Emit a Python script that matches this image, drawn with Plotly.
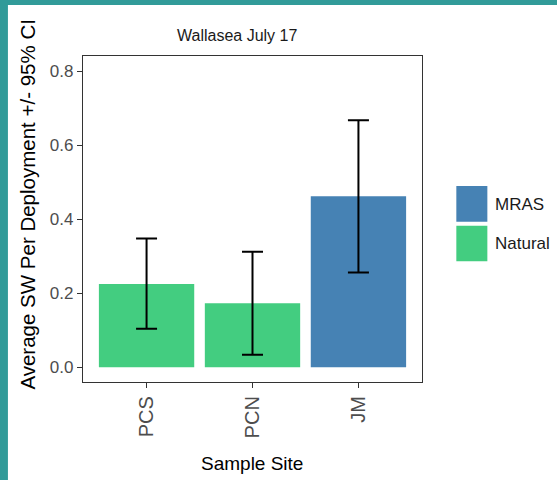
import plotly.graph_objects as go

sites = ["PCS", "PCN", "JM"]
groups = ["Natural", "Natural", "MRAS"]
means = [0.225, 0.173, 0.462]
ci_upper = [0.348, 0.312, 0.667]
ci_lower = [0.104, 0.034, 0.256]
y_ticks = [0.0, 0.2, 0.4, 0.6, 0.8]
y_tick_labels = ["0.0", "0.2", "0.4", "0.6", "0.8"]
legend_order = ["MRAS", "Natural"]
group_colors = {"MRAS": "#4682B4", "Natural": "#43CD80"}

FONT = "Liberation Sans, Arial, sans-serif"

err_plus = [u - m for u, m in zip(ci_upper, means)]
err_minus = [m - l for m, l in zip(means, ci_lower)]

fig = go.Figure()
fig.add_trace(go.Bar(
    x=sites, y=means,
    marker=dict(color=[group_colors[g] for g in groups], line=dict(width=0)),
    width=0.9,
    error_y=dict(type="data", symmetric=False, array=err_plus, arrayminus=err_minus,
                 color="black", thickness=2, width=10.5),
    showlegend=False,
))

W, H = 557, 480
L, R, T, B = 83, 135.3, 56, 98.3
pw, ph = W - L - R, H - T - B

def px(x):
    return (x - L) / pw

def py(y):
    return (H - B - y) / ph

TEAL = "#319b99"
shapes = [
    # teal frame
    dict(type="rect", xref="paper", yref="paper", x0=px(-2), x1=px(W + 2), y0=py(5), y1=py(-2),
         fillcolor=TEAL, line=dict(width=0), layer="above"),
    dict(type="rect", xref="paper", yref="paper", x0=px(-2), x1=px(8), y0=py(H + 2), y1=py(-2),
         fillcolor=TEAL, line=dict(width=0), layer="above"),
]
annotations = []
# custom legend
for i, g in enumerate(legend_order):
    y0 = 186 + i * 39.5
    shapes.append(dict(type="rect", xref="paper", yref="paper",
                       x0=px(456), x1=px(487), y0=py(y0 + 35.5), y1=py(y0),
                       fillcolor=group_colors[g], line=dict(width=0)))
    annotations.append(dict(xref="paper", yref="paper", x=px(493), y=py(y0 + 18),
                            text=g, showarrow=False, xanchor="left", yanchor="middle",
                            font=dict(family=FONT, size=17, color="#1a1a1a")))

annotations.append(dict(xref="paper", yref="paper", x=px(236.5), y=py(36), text="Wallasea July 17",
                        showarrow=False, xanchor="center", yanchor="middle",
                        font=dict(family=FONT, size=16, color="#1a1a1a")))
annotations.append(dict(xref="paper", yref="paper", x=px(27.5), y=py(204),
                        text="Average SW Per Deployment +/- 95% CI", textangle=-90,
                        showarrow=False, xanchor="center", yanchor="middle",
                        font=dict(family=FONT, size=20.5, color="#000000")))
annotations.append(dict(xref="paper", yref="paper", x=px(251.5), y=py(463), text="Sample Site",
                        showarrow=False, xanchor="center", yanchor="middle",
                        font=dict(family=FONT, size=19, color="#000000")))

fig.update_layout(
    width=W, height=H,
    margin=dict(l=L, r=R, t=T, b=B, pad=0),
    paper_bgcolor="white", plot_bgcolor="white",
    shapes=shapes, annotations=annotations,
    bargap=0.1,
)
fig.update_xaxes(
    type="category", categoryorder="array", categoryarray=sites,
    range=[-0.6, 2.6],
    showline=True, linecolor="#333333", linewidth=1.3, mirror=True,
    ticks="outside", ticklen=5, tickcolor="#333333", tickwidth=1.3,
    tickangle=-90, showgrid=False, zeroline=False,
    tickfont=dict(family=FONT, size=20, color="#4D4D4D"),
)
fig.update_yaxes(
    range=[-0.0397, 0.8405],
    tickvals=y_ticks, ticktext=y_tick_labels,
    showline=True, linecolor="#333333", linewidth=1.3, mirror=True,
    ticks="outside", ticklen=5, tickcolor="#333333", tickwidth=1.3,
    showgrid=False, zeroline=False,
    tickfont=dict(family=FONT, size=17, color="#4D4D4D"),
)

fig.write_html("out.html", config={"displayModeBar": False},
               post_script="document.body.style.margin='0';document.body.style.overflow='hidden';")
